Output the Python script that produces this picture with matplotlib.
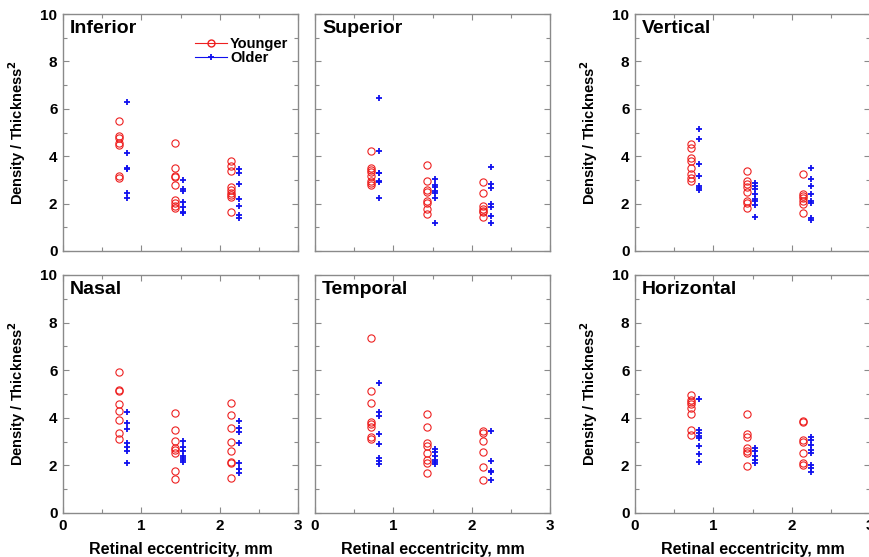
import matplotlib
matplotlib.use("Agg")
import matplotlib.pyplot as plt
from matplotlib.ticker import MultipleLocator
from matplotlib.lines import Line2D

plt.rcParams['font.family'] = ['Liberation Sans', 'DejaVu Sans']

x_young = [0.71, 1.43, 2.15]
x_old = [0.82, 1.53, 2.25]

panels = ["Inferior", "Superior", "Vertical", "Nasal", "Temporal", "Horizontal"]

young = {
    "Inferior": [
        [5.50, 4.85, 4.75, 4.54, 4.47, 3.16, 3.07],
        [4.57, 3.52, 3.18, 3.11, 2.78, 2.15, 2.04, 1.90, 1.80],
        [3.80, 3.59, 3.38, 2.71, 2.57, 2.46, 2.36, 2.27, 1.63],
    ],
    "Superior": [
        [4.23, 3.49, 3.42, 3.35, 3.16, 2.97, 2.86, 2.80],
        [3.63, 2.97, 2.57, 2.50, 2.12, 2.01, 1.77, 1.56],
        [2.92, 2.43, 1.90, 1.76, 1.70, 1.63, 1.45],
    ],
    "Vertical": [
        [4.51, 4.33, 3.91, 3.81, 3.49, 3.24, 3.09, 2.97],
        [3.39, 2.97, 2.83, 2.71, 2.48, 2.12, 2.04, 1.83],
        [3.25, 2.41, 2.32, 2.22, 2.11, 1.97, 1.59],
    ],
    "Nasal": [
        [5.94, 5.17, 5.13, 4.57, 4.30, 3.91, 3.38, 3.10],
        [4.19, 3.49, 3.04, 2.72, 2.65, 2.51, 1.76, 1.42],
        [4.64, 4.12, 3.59, 3.00, 2.62, 2.16, 2.11, 1.48],
    ],
    "Temporal": [
        [7.37, 5.14, 4.64, 3.84, 3.73, 3.63, 3.18, 3.10],
        [4.15, 3.63, 2.93, 2.83, 2.51, 2.23, 2.09, 1.69],
        [3.45, 3.35, 3.03, 2.58, 1.95, 1.39],
    ],
    "Horizontal": [
        [4.96, 4.75, 4.65, 4.57, 4.40, 4.15, 3.49, 3.28],
        [4.16, 3.31, 3.18, 2.72, 2.61, 2.51, 1.99],
        [3.88, 3.81, 3.07, 3.00, 2.51, 2.09, 2.02],
    ],
}

old = {
    "Inferior": [
        [6.30, 4.12, 3.52, 3.45, 2.43, 2.22],
        [3.00, 2.60, 2.54, 2.08, 1.84, 1.66, 1.59],
        [3.45, 3.28, 2.81, 2.19, 1.91, 1.52, 1.38],
    ],
    "Superior": [
        [6.44, 4.22, 3.30, 3.28, 2.95, 2.90, 2.25],
        [3.03, 2.78, 2.71, 2.53, 2.43, 2.25, 1.17],
        [3.53, 2.81, 2.67, 1.97, 1.87, 1.48, 1.17],
    ],
    "Vertical": [
        [5.15, 4.71, 3.66, 3.16, 2.74, 2.67, 2.57],
        [2.86, 2.74, 2.60, 2.41, 2.19, 2.11, 1.94, 1.45],
        [3.49, 3.03, 2.74, 2.41, 2.12, 2.04, 1.38, 1.31],
    ],
    "Nasal": [
        [4.23, 3.80, 3.52, 2.93, 2.79, 2.62, 2.09],
        [3.03, 2.76, 2.62, 2.39, 2.30, 2.16, 2.22],
        [3.88, 3.59, 3.42, 2.93, 2.09, 1.84, 1.67],
    ],
    "Temporal": [
        [5.45, 4.23, 4.09, 3.31, 2.89, 2.30, 2.18, 2.05],
        [2.69, 2.58, 2.41, 2.23, 2.13, 2.05],
        [3.46, 2.20, 1.78, 1.74, 1.39],
    ],
    "Horizontal": [
        [4.79, 3.49, 3.35, 3.25, 3.14, 2.83, 2.47, 2.16],
        [2.74, 2.61, 2.39, 2.23, 2.09],
        [3.21, 3.07, 2.86, 2.65, 2.51, 2.02, 1.88, 1.71],
    ],
}

W, H = 869, 557
fig = plt.figure(figsize=(W / 100, H / 100), dpi=100)

lefts = [63, 315, 635]
width_px = 235
rows = [(14, 251), (275, 513)]

frame_col = '#8a8a8a'
red = '#ee2020'
blue = '#1010ee'

for i, name in enumerate(panels):
    r, c = divmod(i, 3)
    top, bot = rows[r]
    left = lefts[c]
    ax = fig.add_axes([left / W, (H - bot) / H, width_px / W, (bot - top) / H])
    for k in range(3):
        yv = young[name][k]
        ov = old[name][k]
        ax.plot([x_young[k]] * len(yv), yv, linestyle='none', marker='o',
                markersize=5.2, markerfacecolor='none', markeredgecolor=red,
                markeredgewidth=0.8)
        ax.plot([x_old[k]] * len(ov), ov, linestyle='none', marker='+',
                markersize=5, markeredgecolor=blue, markeredgewidth=1.3)
    ax.set_xlim(0, 3)
    ax.set_ylim(0, 10)
    ax.xaxis.set_major_locator(MultipleLocator(1))
    ax.xaxis.set_minor_locator(MultipleLocator(0.5))
    ax.yaxis.set_major_locator(MultipleLocator(2))
    ax.yaxis.set_minor_locator(MultipleLocator(1))
    ax.tick_params(which='both', direction='in', top=True, right=True,
                   colors=frame_col, labelcolor='black', labelsize=11)
    ax.tick_params(which='major', length=4, width=0.8, pad=4)
    ax.tick_params(which='minor', length=3, width=0.8)
    for lab in ax.get_xticklabels() + ax.get_yticklabels():
        lab.set_fontweight('bold')
    for s in ax.spines.values():
        s.set_color(frame_col)
        s.set_linewidth(1.0)
    if r == 0:
        ax.tick_params(labelbottom=False)
    else:
        ax.set_xlabel('Retinal eccentricity, mm', fontsize=11.5, fontweight='bold',
                      labelpad=7)
    if c == 1:
        ax.tick_params(labelleft=False)
    else:
        ax.set_ylabel('Density / Thickness$^\\mathbf{2}$', fontsize=10.5,
                      fontweight='bold', labelpad=9)
    ax.text(0.03, 0.975, name, transform=ax.transAxes, ha='left', va='top',
            fontsize=14, fontweight='bold')
    if i == 0:
        handles = [
            Line2D([0], [0], color=red, marker='o', markerfacecolor='none',
                   markeredgecolor=red, markersize=5, linewidth=0.8),
            Line2D([0], [0], color=blue, marker='+', markeredgecolor=blue,
                   markersize=5, linewidth=0.8, markeredgewidth=1.3),
        ]
        leg = ax.legend(handles, ['Younger', 'Older'], loc='upper right',
                        bbox_to_anchor=(0.99, 0.935), frameon=False,
                        prop={'weight': 'bold', 'size': 10.5},
                        handlelength=2.2, handletextpad=0.2,
                        labelspacing=0.0, borderpad=0.0)

fig.savefig('out.png', dpi=100)
